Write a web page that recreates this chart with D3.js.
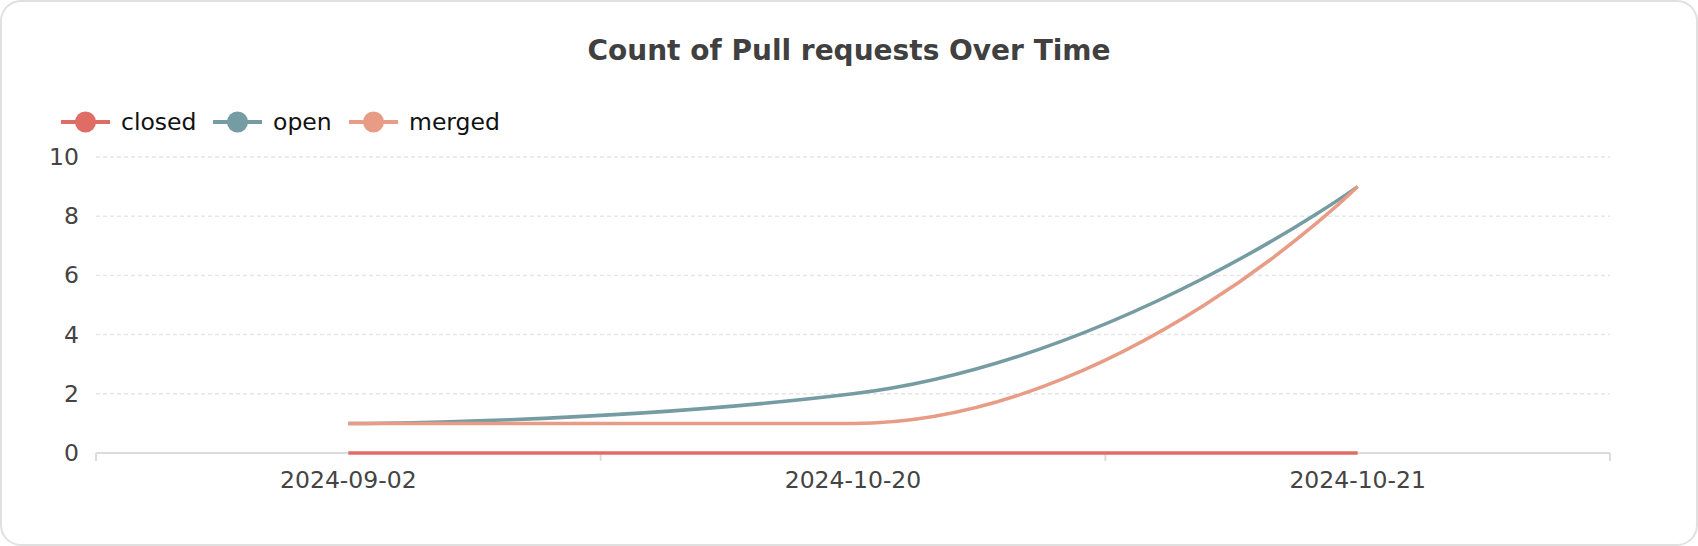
<!DOCTYPE html>
<html>
<head>
<meta charset="utf-8">
<script src="https://cdn.jsdelivr.net/npm/d3@7"></script>
<style>
  html, body { margin: 0; padding: 0; background: #fff; }
  svg { display: block; font-family: "DejaVu Sans", sans-serif; }
</style>
</head>
<body>
<svg id="chart" width="1698" height="546"></svg>
<script>
const title = "Count of Pull requests Over Time";
const categories = ["2024-09-02", "2024-10-20", "2024-10-21"];
const seriesNames = ["closed", "open", "merged"];
const closedValues = [0, 0, 0];
const openValues = [1, 2, 9];
const mergedValues = [1, 1, 9];
const yTicks = [0, 2, 4, 6, 8, 10];
const colors = ["#e06c66", "#759ca2", "#e89c86"];

const series = [
  { name: seriesNames[0], values: closedValues, color: colors[0] },
  { name: seriesNames[1], values: openValues, color: colors[1] },
  { name: seriesNames[2], values: mergedValues, color: colors[2] }
];

const W = 1698, H = 546;
const svg = d3.select("#chart");

// card border
svg.append("rect")
  .attr("x", 1).attr("y", 1).attr("width", W - 2).attr("height", H - 2)
  .attr("rx", 20).attr("ry", 20)
  .attr("fill", "#fff").attr("stroke", "#e0e0e0").attr("stroke-width", 2);

// title
svg.append("text")
  .attr("x", W / 2).attr("y", 50)
  .attr("text-anchor", "middle").attr("dominant-baseline", "central")
  .attr("font-size", 28).attr("font-weight", "bold").attr("fill", "#404040")
  .text(title);

const plot = { left: 96, right: 1610, top: 157, bottom: 453 };

const x = d3.scaleBand().domain(categories).range([plot.left, plot.right]).padding(0);
const y = d3.scaleLinear().domain([0, 10]).range([plot.bottom, plot.top]);

// gridlines
svg.append("g").selectAll("line").data(yTicks.filter(d => d !== 0)).join("line")
  .attr("x1", plot.left).attr("x2", plot.right)
  .attr("y1", d => y(d)).attr("y2", d => y(d))
  .attr("stroke", "#e6e6e6").attr("stroke-width", 1.5).attr("stroke-dasharray", "4,3");

// y labels
svg.append("g").selectAll("text").data(yTicks).join("text")
  .attr("x", 79).attr("y", d => y(d))
  .attr("text-anchor", "end").attr("dominant-baseline", "central")
  .attr("font-size", 23.5).attr("fill", "#444")
  .text(d => d);

// x axis
const xAxis = svg.append("g").attr("transform", `translate(0,${plot.bottom})`);
xAxis.append("line")
  .attr("x1", plot.left).attr("x2", plot.right)
  .attr("stroke", "#dcdcdc").attr("stroke-width", 2);
const boundaries = [plot.left, ...categories.map(c => x(c) + x.bandwidth())];
xAxis.selectAll("line.tick").data(boundaries).join("line")
  .attr("class", "tick")
  .attr("x1", d => d).attr("x2", d => d).attr("y1", 0).attr("y2", 8)
  .attr("stroke", "#dcdcdc").attr("stroke-width", 2);
xAxis.selectAll("text").data(categories).join("text")
  .attr("x", d => x(d) + x.bandwidth() / 2).attr("y", 27)
  .attr("text-anchor", "middle").attr("dominant-baseline", "central")
  .attr("font-size", 23.5).attr("fill", "#444")
  .text(d => d);

// ECharts-like smooth path
function smoothPath(pts, smooth) {
  const p = d3.path();
  let prevX, prevY, cpx0, cpy0, cpx1, cpy1;
  for (let i = 0; i < pts.length; i++) {
    const [px, py] = pts[i];
    if (i === 0) {
      p.moveTo(px, py); cpx0 = px; cpy0 = py;
    } else {
      let nextCpx0, nextCpy0;
      if (i + 1 >= pts.length) {
        cpx1 = px; cpy1 = py;
      } else {
        const [nx, ny] = pts[i + 1];
        let vx = nx - prevX, vy = ny - prevY;
        const dx0 = px - prevX, dx1 = nx - px, dy0 = py - prevY, dy1 = ny - py;
        const lenPrev = Math.sqrt(dx0 * dx0 + dy0 * dy0);
        const lenNext = Math.sqrt(dx1 * dx1 + dy1 * dy1);
        const ratio = lenNext / (lenNext + lenPrev);
        nextCpx0 = px + vx * smooth * ratio;
        nextCpy0 = py + vy * smooth * ratio;
        nextCpx0 = Math.min(nextCpx0, Math.max(nx, px));
        nextCpy0 = Math.min(nextCpy0, Math.max(ny, py));
        nextCpx0 = Math.max(nextCpx0, Math.min(nx, px));
        nextCpy0 = Math.max(nextCpy0, Math.min(ny, py));
        vx = nextCpx0 - px; vy = nextCpy0 - py;
        cpx1 = px - vx * lenPrev / lenNext;
        cpy1 = py - vy * lenPrev / lenNext;
        cpx1 = Math.min(cpx1, Math.max(prevX, px));
        cpy1 = Math.min(cpy1, Math.max(prevY, py));
        cpx1 = Math.max(cpx1, Math.min(prevX, px));
        cpy1 = Math.max(cpy1, Math.min(prevY, py));
        vx = px - cpx1; vy = py - cpy1;
        nextCpx0 = px + vx * lenNext / lenPrev;
        nextCpy0 = py + vy * lenNext / lenPrev;
      }
      p.bezierCurveTo(cpx0, cpy0, cpx1, cpy1, px, py);
      cpx0 = nextCpx0; cpy0 = nextCpy0;
    }
    prevX = px; prevY = py;
  }
  return p.toString();
}

svg.append("g").selectAll("path").data(series).join("path")
  .attr("d", s => smoothPath(s.values.map((v, i) => [x(categories[i]) + x.bandwidth() / 2, y(v)]), 0.5))
  .attr("fill", "none").attr("stroke", s => s.color)
  .attr("stroke-width", 3.5).attr("stroke-linejoin", "round");

// legend
const legendX = [61, 213, 349];
const lg = svg.append("g").selectAll("g").data(series).join("g")
  .attr("transform", (d, i) => `translate(${legendX[i]},122)`);
lg.append("line").attr("x1", 0).attr("x2", 49).attr("y1", 0).attr("y2", 0)
  .attr("stroke", d => d.color).attr("stroke-width", 4);
lg.append("circle").attr("cx", 24.5).attr("cy", 0).attr("r", 10.5).attr("fill", d => d.color);
lg.append("text").attr("x", 60).attr("y", 0)
  .attr("dominant-baseline", "central").attr("font-size", 23.5).attr("fill", "#111")
  .text(d => d.name);
</script>
</body>
</html>
